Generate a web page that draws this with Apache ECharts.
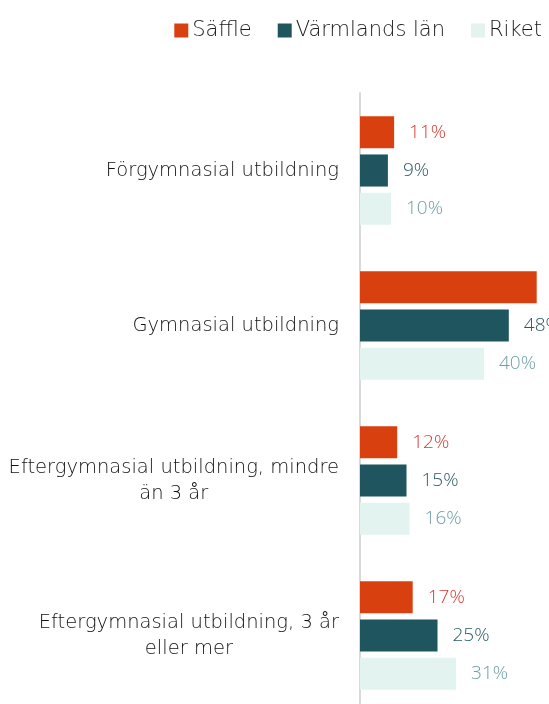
<!DOCTYPE html>
<html>
<head>
<meta charset="utf-8">
<script src="https://cdn.jsdelivr.net/npm/echarts@6/dist/echarts.min.js"></script>
<style>
html, body { margin: 0; padding: 0; background: #fff; }
#chart { width: 549px; height: 704px; }
</style>
</head>
<body>
<div id="chart"></div>
<script>
var categories = [
    'Förgymnasial utbildning',
    'Gymnasial utbildning',
    'Eftergymnasial utbildning, mindre\nän 3 år',
    'Eftergymnasial utbildning, 3 år\neller mer'
];
var seriesNames = ['Säffle', 'Värmlands län', 'Riket'];
var saffle = [11, 57, 12, 17];
var varmland = [9, 48, 15, 25];
var riket = [10, 40, 16, 31];

var barColors = ['#d9400f', '#1f555e', '#e3f3ef'];
var labelColors = ['#d63a2f', '#2c5a62', '#6e9ea3'];
var font = '"Open Sans", Lato, sans-serif';
var wideFont = '"DejaVu Sans", sans-serif';

var chart = echarts.init(document.getElementById('chart'));

function makeSeries(idx, values) {
    return {
        name: seriesNames[idx],
        type: 'bar',
        data: values,
        barGap: '19%',
        barCategoryGap: '30%',
        itemStyle: { color: barColors[idx] },
        label: {
            show: true,
            position: 'right',
            distance: 15,
            formatter: '{c}%',
            color: labelColors[idx],
            fontFamily: font,
            fontWeight: 300,
            fontSize: 19
        }
    };
}

var option = {
    animation: false,
    legend: {
        top: 15,
        right: 2,
        itemWidth: 14,
        itemHeight: 14,
        itemGap: 26,
        icon: 'rect',
        textStyle: { fontFamily: wideFont, fontWeight: 200, fontSize: 21, color: '#1a1a1a', padding: [0, 0, 0, -1] },
        data: seriesNames
    },
    grid: { left: 360, right: 3, top: 93, height: 620, containLabel: false, outerBoundsMode: 'none' },
    xAxis: {
        type: 'value',
        min: 0,
        max: 60,
        show: false
    },
    yAxis: {
        type: 'category',
        inverse: true,
        data: categories,
        axisLine: { show: true, lineStyle: { color: '#d9d9d9', width: 2 } },
        axisTick: { show: false },
        axisLabel: {
            margin: 21,
            formatter: function (v) {
                return v.split('\n').map(function (l) { return '{c|' + l + '}'; }).join('\n');
            },
            rich: {
                c: {
                    align: 'center',
                    fontFamily: wideFont,
                    fontWeight: 200,
                    fontSize: 19.5,
                    lineHeight: 26,
                    color: '#111111'
                }
            }
        }
    },
    series: [
        makeSeries(0, saffle),
        makeSeries(1, varmland),
        makeSeries(2, riket)
    ]
};
chart.setOption(option);
</script>
</body>
</html>
